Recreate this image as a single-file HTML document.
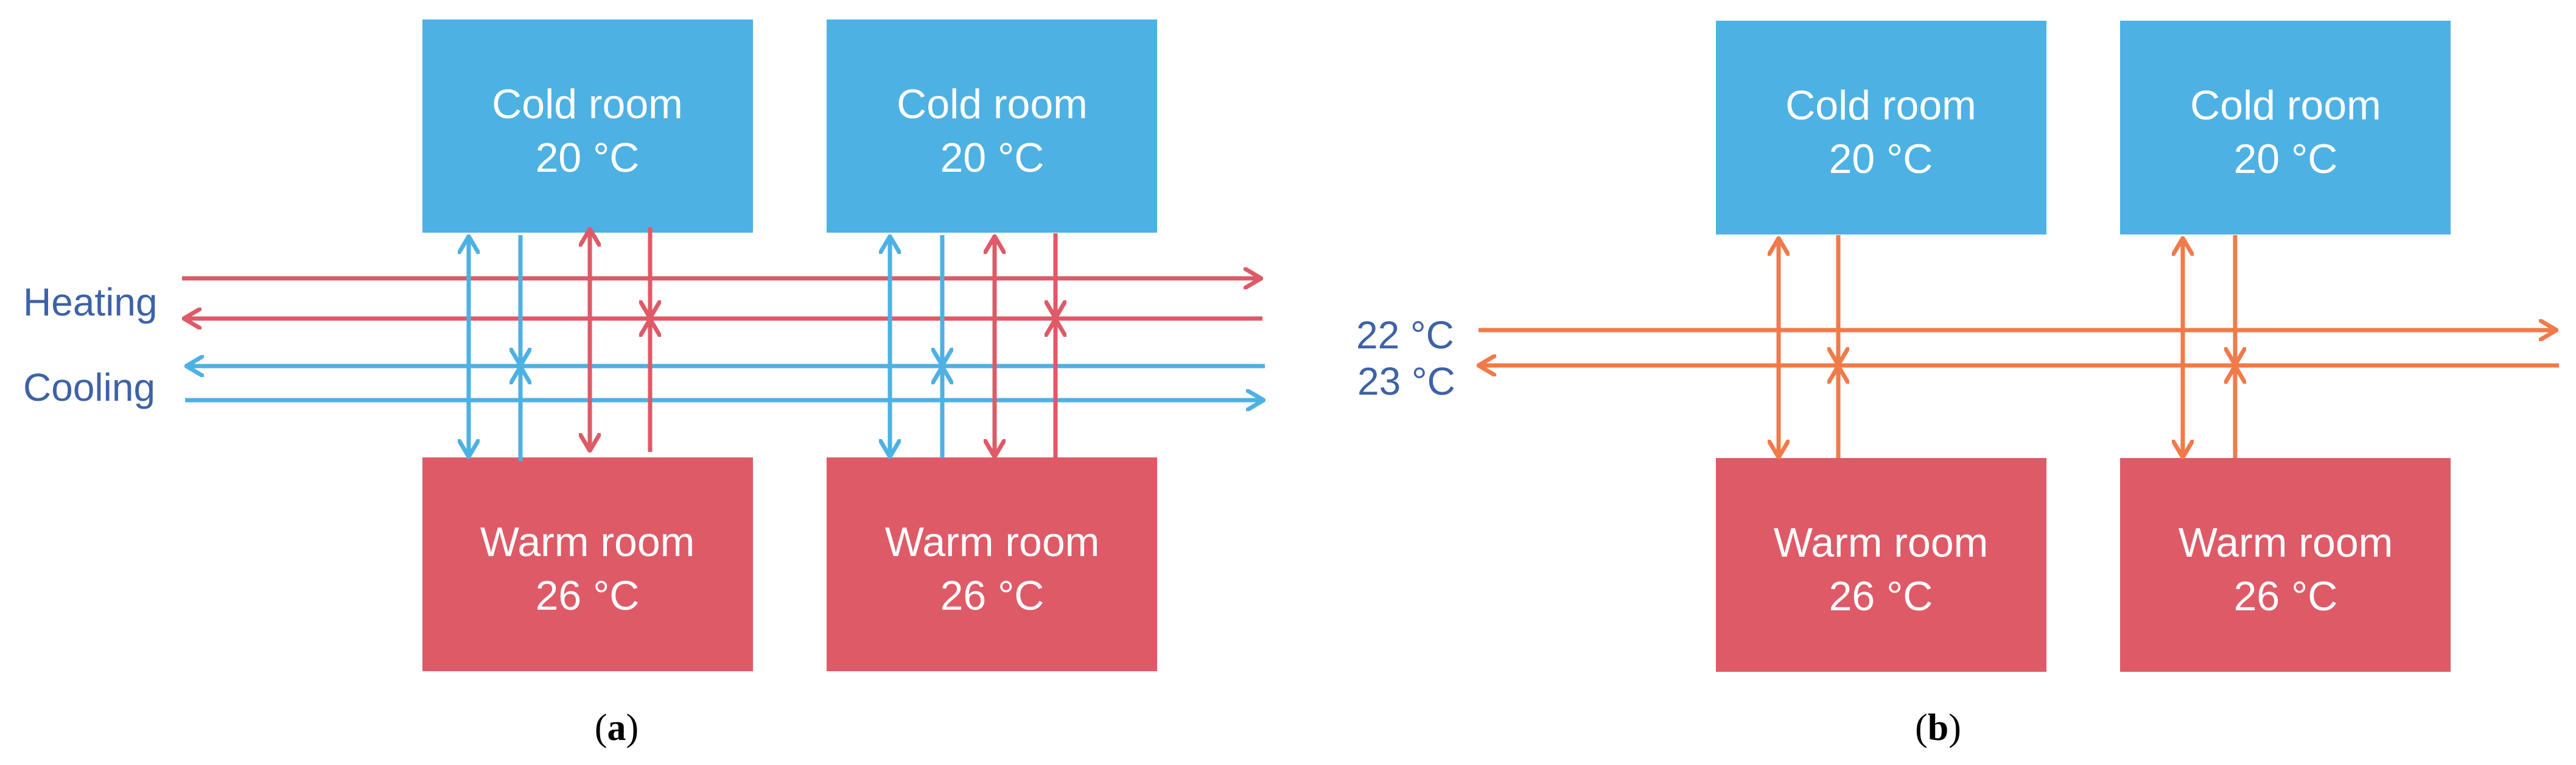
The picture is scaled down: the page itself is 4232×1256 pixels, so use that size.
<!DOCTYPE html>
<html><head><meta charset="utf-8"><style>
html,body{margin:0;padding:0;background:#fff}
svg{display:block}
text{font-family:"Liberation Sans",sans-serif}
</style></head><body>
<svg width="4232" height="1256" viewBox="0 0 4232 1256" xmlns="http://www.w3.org/2000/svg">
<defs>
<marker id="mb" markerUnits="userSpaceOnUse" viewBox="-2 -2 32 36" refX="27" refY="16" markerWidth="32" markerHeight="36" orient="auto-start-reverse"><path d="M0,0 L27,16 L0,32" fill="none" stroke="#4db1e3" stroke-width="7" stroke-linecap="round" stroke-linejoin="round"/></marker>
<marker id="mr" markerUnits="userSpaceOnUse" viewBox="-2 -2 32 36" refX="27" refY="16" markerWidth="32" markerHeight="36" orient="auto-start-reverse"><path d="M0,0 L27,16 L0,32" fill="none" stroke="#de5a67" stroke-width="7" stroke-linecap="round" stroke-linejoin="round"/></marker>
<marker id="mo" markerUnits="userSpaceOnUse" viewBox="-2 -2 32 36" refX="27" refY="16" markerWidth="32" markerHeight="36" orient="auto-start-reverse"><path d="M0,0 L27,16 L0,32" fill="none" stroke="#f07a4a" stroke-width="7" stroke-linecap="round" stroke-linejoin="round"/></marker>
</defs>

<rect x="694" y="32" width="543" height="350" fill="#4db1e3"/>
<rect x="1358" y="32" width="543" height="350" fill="#4db1e3"/>
<rect x="694" y="751" width="543" height="351" fill="#de5a67"/>
<rect x="1358" y="751" width="543" height="351" fill="#de5a67"/>
<g fill="#fff" font-size="68" text-anchor="middle">
<text x="965" y="194">Cold room</text><text x="965" y="282">20 °C</text>
<text x="1630" y="194">Cold room</text><text x="1630" y="282">20 °C</text>
<text x="965" y="913">Warm room</text><text x="965" y="1001">26 °C</text>
<text x="1630" y="913">Warm room</text><text x="1630" y="1001">26 °C</text>
</g>
<g stroke-width="7" fill="none">
<line x1="299" y1="457" x2="2072" y2="457" stroke="#de5a67" marker-end="url(#mr)"/>
<line x1="2074" y1="523" x2="302" y2="523" stroke="#de5a67" marker-end="url(#mr)"/>
<line x1="2078" y1="601" x2="306" y2="601" stroke="#4db1e3" marker-end="url(#mb)"/>
<line x1="304" y1="657" x2="2076" y2="657" stroke="#4db1e3" marker-end="url(#mb)"/>
<line x1="770" y1="388" x2="770" y2="750" stroke="#4db1e3" marker-start="url(#mb)" marker-end="url(#mb)"/>
<line x1="855" y1="386" x2="855" y2="600" stroke="#4db1e3" marker-end="url(#mb)"/>
<line x1="855" y1="757" x2="855" y2="602" stroke="#4db1e3" marker-end="url(#mb)"/>
<line x1="969" y1="376" x2="969" y2="740" stroke="#de5a67" marker-start="url(#mr)" marker-end="url(#mr)"/>
<line x1="1068" y1="373" x2="1068" y2="522" stroke="#de5a67" marker-end="url(#mr)"/>
<line x1="1068" y1="742" x2="1068" y2="524" stroke="#de5a67" marker-end="url(#mr)"/>
<line x1="1462" y1="388" x2="1462" y2="750" stroke="#4db1e3" marker-start="url(#mb)" marker-end="url(#mb)"/>
<line x1="1548" y1="386" x2="1548" y2="600" stroke="#4db1e3" marker-end="url(#mb)"/>
<line x1="1548" y1="752" x2="1548" y2="602" stroke="#4db1e3" marker-end="url(#mb)"/>
<line x1="1634" y1="388" x2="1634" y2="750" stroke="#de5a67" marker-start="url(#mr)" marker-end="url(#mr)"/>
<line x1="1734" y1="383" x2="1734" y2="522" stroke="#de5a67" marker-end="url(#mr)"/>
<line x1="1734" y1="752" x2="1734" y2="524" stroke="#de5a67" marker-end="url(#mr)"/>
</g>
<g fill="#3d62a8" font-size="64">
<text x="38" y="518">Heating</text>
<text x="38" y="658">Cooling</text>
</g>
<text x="1013" y="1215" font-size="62" text-anchor="middle" style="font-family:'Liberation Serif',serif">(<tspan font-weight="bold">a</tspan>)</text>

<rect x="2819" y="34" width="543" height="351" fill="#4db1e3"/>
<rect x="3483" y="34" width="543" height="351" fill="#4db1e3"/>
<rect x="2819" y="752" width="543" height="351" fill="#de5a67"/>
<rect x="3483" y="752" width="543" height="351" fill="#de5a67"/>
<g fill="#fff" font-size="68" text-anchor="middle">
<text x="3090" y="196">Cold room</text><text x="3090" y="284">20 °C</text>
<text x="3755" y="196">Cold room</text><text x="3755" y="284">20 °C</text>
<text x="3090" y="914">Warm room</text><text x="3090" y="1002">26 °C</text>
<text x="3755" y="914">Warm room</text><text x="3755" y="1002">26 °C</text>
</g>
<g stroke-width="7" fill="none" stroke="#f07a4a">
<line x1="2429" y1="542" x2="4200" y2="542" marker-end="url(#mo)"/>
<line x1="4204" y1="600" x2="2429" y2="600" marker-end="url(#mo)"/>
<line x1="2922" y1="391" x2="2922" y2="751" marker-start="url(#mo)" marker-end="url(#mo)"/>
<line x1="3020" y1="386" x2="3020" y2="599" marker-end="url(#mo)"/>
<line x1="3020" y1="752" x2="3020" y2="601" marker-end="url(#mo)"/>
<line x1="3586" y1="391" x2="3586" y2="751" marker-start="url(#mo)" marker-end="url(#mo)"/>
<line x1="3672" y1="386" x2="3672" y2="599" marker-end="url(#mo)"/>
<line x1="3672" y1="752" x2="3672" y2="601" marker-end="url(#mo)"/>
</g>
<g fill="#3d62a8" font-size="64">
<text x="2228" y="572">22 °C</text>
<text x="2230" y="648">23 °C</text>
</g>
<text x="3184" y="1215" font-size="62" text-anchor="middle" style="font-family:'Liberation Serif',serif">(<tspan font-weight="bold">b</tspan>)</text>
</svg>
</body></html>
